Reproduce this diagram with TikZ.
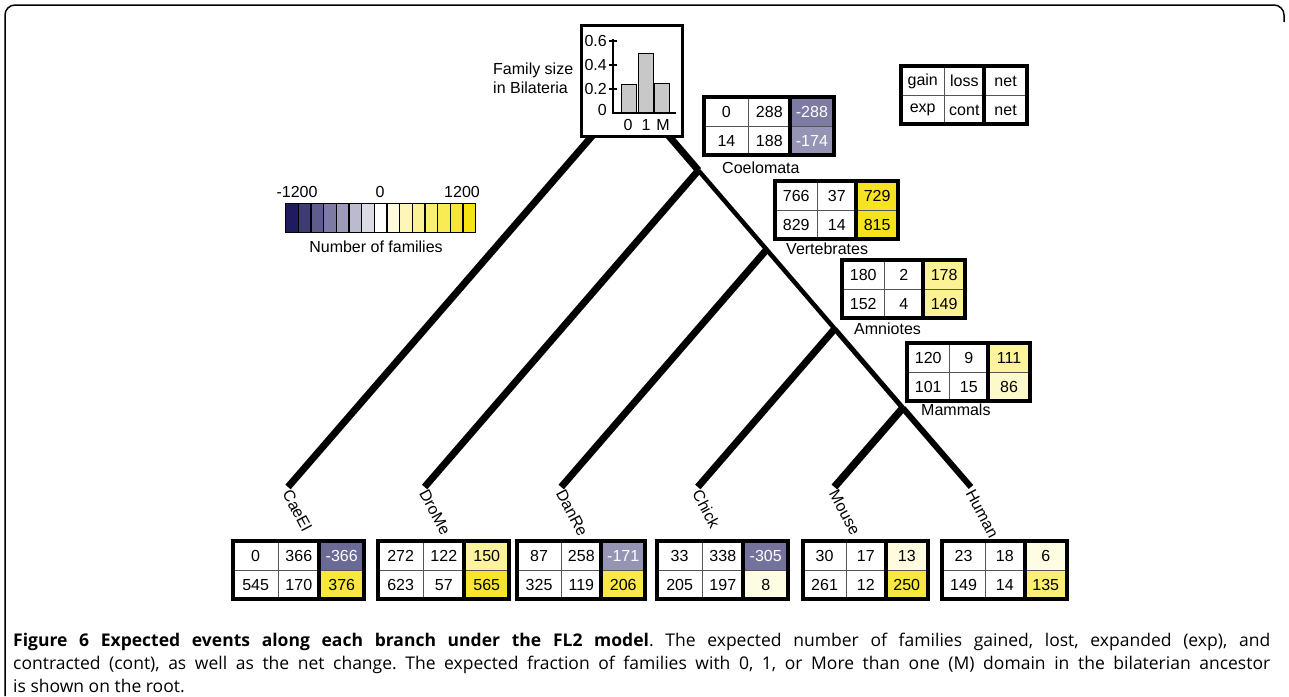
\documentclass[tikz,border=0pt]{standalone}
\usepackage{fontspec}
\setmainfont{Liberation Sans}
\newfontfamily\capfont{Open Sans}
\usetikzlibrary{calc}
\definecolor{navyb}{RGB}{30,28,95}
\definecolor{ylwb}{RGB}{247,226,20}
\definecolor{gridc}{RGB}{85,85,85}
\definecolor{bargray}{RGB}{200,200,200}

\tikzset{
  every node/.style={font=\fontsize{16}{19}\selectfont, inner sep=0pt},
  branchline/.style={line width=#1, line cap=butt},
  gridline/.style={draw=gridc, line width=1pt},
  tborder/.style={line width=4pt},
  cbcell/.style={draw, line width=1.2pt, minimum width=12.67pt, minimum height=29pt, anchor=north west},
  leaflab/.style={rotate=-62, anchor=west},
  cladelab/.style={anchor=west},
  netnet/.style={fill=white},
  net-288/.style={fill=navyb!58!white, text=white},
  net-174/.style={fill=navyb!47!white, text=white},
  net-366/.style={fill=navyb!66!white, text=white},
  net-171/.style={fill=navyb!47!white, text=white},
  net-305/.style={fill=navyb!62!white, text=white},
  net729/.style={fill=ylwb!95!white},
  net815/.style={fill=ylwb!98!white},
  net178/.style={fill=ylwb!45!white},
  net149/.style={fill=ylwb!45!white},
  net111/.style={fill=ylwb!42!white},
  net86/.style={fill=ylwb!22!white},
  net376/.style={fill=ylwb!82!white},
  net150/.style={fill=ylwb!42!white},
  net565/.style={fill=ylwb!90!white},
  net206/.style={fill=ylwb!78!white},
  net8/.style={fill=ylwb!12!white},
  net13/.style={fill=ylwb!14!white},
  net250/.style={fill=ylwb!82!white},
  net6/.style={fill=ylwb!12!white},
  net135/.style={fill=ylwb!58!white},
}

\def\tabw{128}
% #1 name, #2 x, #3 y, #4-#6 first row, #7-#9 second row
\newcommand\evtable[9]{%
  \begin{scope}[shift={(#2,#3)}]
    \pgfmathsetmacro\ca{0.345*\tabw}
    \pgfmathsetmacro\cb{0.66*\tabw}
    \pgfmathsetmacro\cc{\tabw}
    \node[minimum width=\cc pt, minimum height=58pt, anchor=north west] (#1) at (0,0) {};
    \fill[net#6] (\cb,0) rectangle (\cc,29);
    \fill[net#9] (\cb,29) rectangle (\cc,58);
    \draw[gridline] (0,29) -- (\cc,29);
    \draw[gridline] (\ca,0) -- (\ca,58);
    \node (#1-a) at ({\ca/2},15) {#4};
    \node (#1-b) at ({(\ca+\cb)/2},15) {#5};
    \node[net#6] (#1-c) at ({(\cb+\cc)/2},15) {#6};
    \node (#1-d) at ({\ca/2},44) {#7};
    \node (#1-e) at ({(\ca+\cb)/2},44) {#8};
    \node[net#9] (#1-f) at ({(\cb+\cc)/2},44) {#9};
    \draw[tborder] (0,0) rectangle (\cc,58);
    \draw[tborder] (\cb,0) -- (\cb,58);
  \end{scope}}

\begin{document}
\begin{tikzpicture}[x=1pt, y=-1pt]
\useasboundingbox (0,0) rectangle (1289,696);

% frame
\draw[line width=1.5pt, rounded corners=10pt] (5,696) -- (5,5) -- (1284,5) -- (1284,22);

% tree coordinates
\coordinate (rootL) at (597.3,130);
\coordinate (rootR) at (663.7,130);
\coordinate (jCoel) at (698.4,170.4);
\coordinate (jVert) at (766.6,249.6);
\coordinate (jAmn) at (834.7,328.8);
\coordinate (jMam) at (902.8,408.0);
\coordinate (lCaeEl) at (288,487);
\coordinate (lDroMe) at (424.6,487);
\coordinate (lDanRe) at (561.2,487);
\coordinate (lChick) at (697.8,487);
\coordinate (lMouse) at (834.4,487);
\coordinate (lHuman) at (971,487);

% branches
\draw[branchline=7pt] (rootL) -- (lCaeEl);
\draw[branchline=7pt] (rootR) -- (jCoel);
\draw[branchline=4.5pt] (jCoel) -- (jVert);
\draw[branchline=4.5pt] (jVert) -- (jAmn);
\draw[branchline=5pt] (jAmn) -- (jMam);
\draw[branchline=6pt] (jMam) -- (lHuman);
\draw[branchline=7pt] (jCoel) -- (lDroMe);
\draw[branchline=7pt] (jVert) -- (lDanRe);
\draw[branchline=7pt] (jAmn) -- (lChick);
\draw[branchline=7.5pt] (jMam) -- (lMouse);

% leaf labels
\node[leaflab] (tCaeEl) at ($(lCaeEl)+(-1,4)$) {CaeEl};
\node[leaflab] (tDroMe) at ($(lDroMe)+(-1,4)$) {DroMe};
\node[leaflab] (tDanRe) at ($(lDanRe)+(-1,4)$) {DanRe};
\node[leaflab] (tChick) at ($(lChick)+(-1,4)$) {Chick};
\node[leaflab] (tMouse) at ($(lMouse)+(-1,4)$) {Mouse};
\node[leaflab] (tHuman) at ($(lHuman)+(-1,4)$) {Human};

% histogram at root
\node[draw, line width=2.5pt, fill=white, minimum width=101pt, minimum height=111pt, anchor=north west] (hist) at (580,24) {};
\draw[fill=bargray, line width=1pt] (621,113) rectangle (636,84);
\draw[fill=bargray, line width=1pt] (638,113) rectangle (653,53);
\draw[fill=bargray, line width=1pt] (654,113) rectangle (669,83);
\draw[line width=2pt] (613,39) -- (613,113) -- (676,113);
\foreach \yy in {41,65,89} \draw[line width=1.5pt] (609,\yy) -- (617,\yy);
\node[anchor=east] (y6) at (607,41) {0.6};
\node[anchor=east] (y4) at (607,65) {0.4};
\node[anchor=east] (y2) at (607,89) {0.2};
\node[anchor=east] (y0) at (607,110) {0};
\node (x0) at (628,125) {0};
\node (x1) at (646,125) {1};
\node (xM) at (663,125) {M};
\node[anchor=west, align=left] (famlab) at (493,78) {Family size\\in Bilateria};

% colour bar
\foreach \i/\c in {1/navyb!100!white, 2/navyb!86!white, 3/navyb!72!white, 4/navyb!58!white,
  5/navyb!44!white, 6/navyb!30!white, 7/navyb!16!white, 8/white,
  9/ylwb!15!white, 10/ylwb!30!white, 11/ylwb!45!white, 12/ylwb!58!white,
  13/ylwb!72!white, 14/ylwb!85!white, 15/ylwb!100!white}
  \node[cbcell, fill=\c] (cb\i) at ({285+(\i-1)*12.667},203) {};
\node (cbmin) at (297,192) {-1200};
\node (cbzero) at (380,192) {0};
\node (cbmax) at (462,192) {1200};
\node (cbtitle) at (376,247) {Number of families};

% legend table
\def\tabw{126}
\evtable{legend}{901}{66}{gain}{loss}{net}{exp}{cont}{net}

% internal tables
\def\tabw{130}
\evtable{coel}{704}{97}{0}{288}{-288}{14}{188}{-174}
\def\tabw{123}
\evtable{vert}{775}{181}{766}{37}{729}{829}{14}{815}
\evtable{amn}{842}{260}{180}{2}{178}{152}{4}{149}
\evtable{mam}{907}{343}{120}{9}{111}{101}{15}{86}

\node[cladelab] (labCoel) at (722,168) {Coelomata};
\node[cladelab] (labVert) at (786,249) {Vertebrates};
\node[cladelab] (labAmn) at (854,329) {Amniotes};
\node[cladelab] (labMam) at (921,410) {Mammals};

% leaf tables
\def\tabw{131}
\evtable{tCae}{233}{541}{0}{366}{-366}{545}{170}{376}
\evtable{tDro}{378}{541}{272}{122}{150}{623}{57}{565}
\def\tabw{128}
\evtable{tDan}{517}{541}{87}{258}{-171}{325}{119}{206}
\def\tabw{131}
\evtable{tChi}{657}{541}{33}{338}{-305}{205}{197}{8}
\def\tabw{125}
\evtable{tMou}{803}{541}{30}{17}{13}{261}{12}{250}
\evtable{tHum}{942}{541}{23}{18}{6}{149}{14}{135}

% caption
\node[anchor=base west, font=\capfont\fontsize{17.5}{23}\selectfont] (caption) at (13,646)
 {\parbox[t]{1257pt}{\frenchspacing{\bfseries Figure 6 Expected events along each branch under the FL2 model}. The expected number of families gained, lost, expanded (exp), and\linebreak
 contracted (cont), as well as the net change. The expected fraction of families with 0, 1, or More than one (M) domain in the bilaterian ancestor\linebreak
 is shown on the root.}};
\end{tikzpicture}
\end{document}
